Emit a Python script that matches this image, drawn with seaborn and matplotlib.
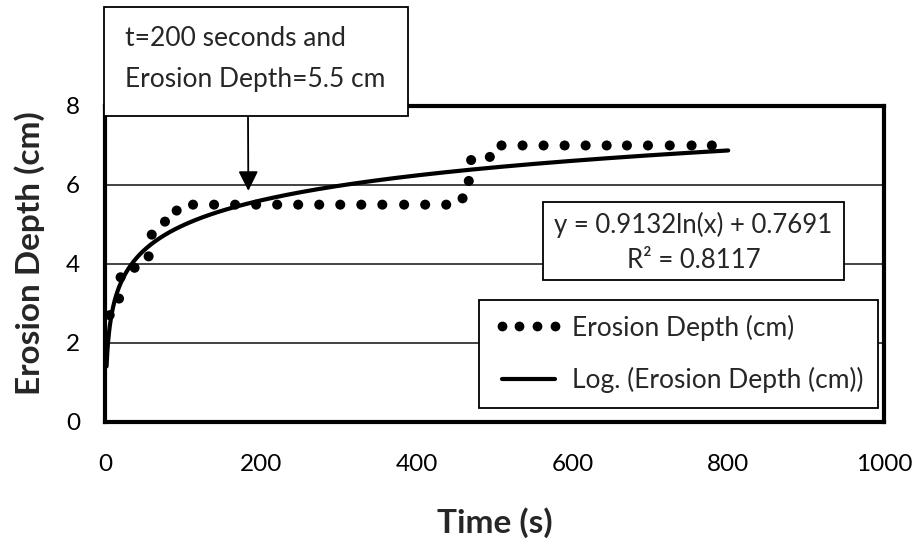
import numpy as np
import pandas as pd
import matplotlib
matplotlib.use("Agg")
import matplotlib.pyplot as plt
from matplotlib.lines import Line2D
from matplotlib.patches import Rectangle
import seaborn as sns

# ---- data ----
time_s = [6, 18, 20, 38, 56, 60, 77, 92, 113, 140, 167, 194, 221, 248, 275, 302,
          329, 356, 384, 411, 438, 459, 467, 470, 494, 509, 536, 563, 590, 617,
          644, 670, 697, 725, 753, 779]
depth_cm = [2.7, 3.12, 3.66, 3.90, 4.19, 4.74, 5.07, 5.35, 5.5, 5.5, 5.5, 5.5, 5.5,
            5.5, 5.5, 5.5, 5.5, 5.5, 5.5, 5.5, 5.5, 5.66, 6.10, 6.63, 6.71, 7.0,
            7.0, 7.0, 7.0, 7.0, 7.0, 7.0, 7.0, 7.0, 7.0, 7.0]
# logarithmic trendline as printed on the chart
trend_a = 0.9132
trend_b = 0.7691
trend_r2 = 0.8117
trend_x_start = 2
trend_x_end = 800
x_ticks = [0, 200, 400, 600, 800, 1000]
y_ticks = [0, 2, 4, 6, 8]
annot_x, annot_y = 184, 5.85
annot_lines = ["t=200 seconds and", "Erosion Depth=5.5 cm"]

W, H = 915, 545


def fx(px):
    return px / W


def fy(py):
    return 1 - py / H


sns.set_theme(style="white")
plt.rcParams['font.family'] = ['Lato', 'DejaVu Sans']

df = pd.DataFrame({"Time (s)": time_s, "Erosion Depth (cm)": depth_cm})
tx = np.linspace(trend_x_start, trend_x_end, 800)
trend = pd.DataFrame({"x": tx, "y": trend_a * np.log(tx) + trend_b})

fig = plt.figure(figsize=(9.15, 5.45), dpi=100)
ax = fig.add_axes([fx(105), fy(421.7), (884 - 105) / W, (421.7 - 106) / H])

ax.set_xlim(0, 1000)
ax.set_ylim(0, 8)
ax.set_xticks(x_ticks)
ax.set_yticks(y_ticks)
ax.yaxis.grid(True, color="#222222", linewidth=1.2)
ax.xaxis.grid(False)
ax.set_axisbelow(True)

sns.lineplot(data=trend, x="x", y="y", ax=ax, color="black", linewidth=3.0,
             legend=False, zorder=3)
sns.scatterplot(data=df, x="Time (s)", y="Erosion Depth (cm)", ax=ax, color="black",
                s=52, edgecolor="none", legend=False, zorder=4)

for sp in ax.spines.values():
    sp.set_color("black")
    sp.set_linewidth(3.0)

ax.tick_params(axis="both", length=0, labelsize=17.5, colors="black")
ax.tick_params(axis="x", pad=23)
ax.tick_params(axis="y", pad=18)
ax.set_xlabel("Time (s)", fontsize=24, fontweight="bold")
ax.set_ylabel("Erosion Depth (cm)", fontsize=24, fontweight="bold")
ax.xaxis.set_label_coords(0.5, -(507 - 421.7) / 315.7)
ax.yaxis.set_label_coords(-(105 - 45) / 779, (421.7 - 253.5) / 315.7)

# equation box
fig.patches.append(Rectangle((fx(543), fy(280)), (844 - 543) / W, (280 - 202) / H,
                             transform=fig.transFigure, facecolor="white",
                             edgecolor="black", linewidth=1.3, zorder=6))
fig.text(fx(693.5), fy(225), f"y = {trend_a}ln(x) + {trend_b}", ha="center",
         va="center", fontsize=18.5, zorder=7)
fig.text(fx(693.5), fy(260), f"R² = {trend_r2}", ha="center", va="center",
         fontsize=18.5, zorder=7)

# legend
handles = [Line2D([], [], color="black", marker="o", linestyle="none", markersize=6),
           Line2D([], [], color="black", linewidth=3.0)]
leg = ax.legend(handles, ["Erosion Depth (cm)", "Log. (Erosion Depth (cm))"],
                loc="lower right", bbox_to_anchor=(fx(877.7), fy(407.7)),
                bbox_transform=fig.transFigure, numpoints=4, fontsize=19,
                frameon=True, fancybox=False, edgecolor="black", framealpha=1,
                handlelength=2.6, handletextpad=0.35, borderpad=0.55,
                labelspacing=1.0, borderaxespad=0)
leg.get_frame().set_linewidth(1.3)
leg.set_zorder(6)

# annotation box with arrow
fig.patches.append(Rectangle((fx(104), fy(116)), (408 - 104) / W, (116 - 7) / H,
                             transform=fig.transFigure, facecolor="white",
                             edgecolor="black", linewidth=1.3, zorder=8))
fig.text(fx(125), fy(38), annot_lines[0], ha="left", va="center", fontsize=19, zorder=9)
fig.text(fx(125), fy(79), annot_lines[1], ha="left", va="center", fontsize=19, zorder=9)
ax.annotate("", xy=(annot_x, annot_y), xytext=(fx(248), fy(116)),
            textcoords="figure fraction",
            arrowprops=dict(arrowstyle="-|>,head_length=0.6,head_width=0.3",
                            color="black", linewidth=1.3,
                            mutation_scale=20, shrinkA=0, shrinkB=0),
            annotation_clip=False, zorder=7)

fig.savefig("out.png", dpi=100)
